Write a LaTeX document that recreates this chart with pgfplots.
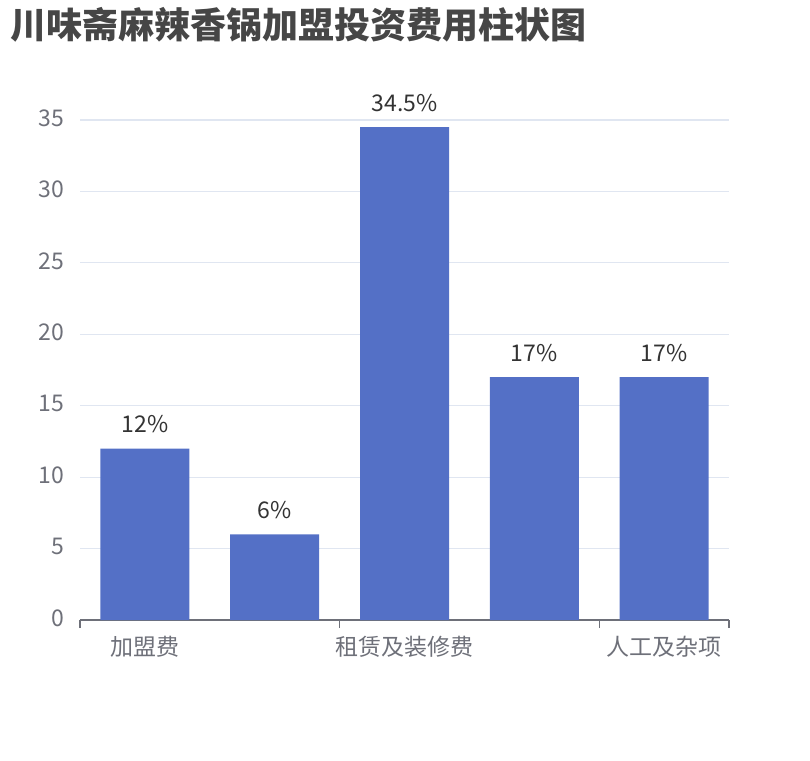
\documentclass[border=0pt]{standalone}
\usepackage{fontspec}
\setmainfont{Noto Sans CJK SC}
\usepackage{pgfplots}
\pgfplotsset{compat=1.18}
\definecolor{barblue}{HTML}{5470C6}
\definecolor{axisgray}{HTML}{6E7079}
\definecolor{gridgray}{HTML}{E0E6F1}
\definecolor{titlegray}{HTML}{464646}
\definecolor{labelgray}{HTML}{333333}

\begin{document}
\begin{tikzpicture}
\useasboundingbox (-80pt,-140pt) rectangle (730pt,620pt);
\begin{axis}[
  at={(0,0)}, anchor=south west,
  scale only axis, width=649pt, height=500pt,
  xmin=-0.5, xmax=4.5, ymin=0, ymax=35,
  ybar, bar width=89pt,
  axis x line*=bottom, axis y line*=left,
  x axis line style={-, draw=axisgray, line width=1.2pt},
  y axis line style={draw=none},
  ytick={0,5,...,35},
  ytick style={draw=none},
  ymajorgrids, grid style={gridgray, line width=1.2pt},
  xtick={0,2,4},
  xticklabels={加盟费,租赁及装修费,人工及杂项},
  major tick length=0pt,
  extra x ticks={-0.5,1.5,3.5,4.5},
  extra x tick labels={},
  extra x tick style={major tick length=8pt, tick align=outside,
    tick style={draw=axisgray, line width=1.2pt}},
  /pgf/number format/assume math mode=true,
  tick label style={font=\fontsize{23}{28}\selectfont, text=axisgray},
  yticklabel style={inner sep=0pt, xshift=-16pt, yshift=2pt},
  xticklabel style={yshift=-13pt},
  nodes near coords,
  point meta=explicit symbolic,
  nodes near coords style={font=\fontsize{23}{28}\selectfont, text=labelgray, yshift=12pt},
]
\addplot[fill=barblue, draw=none] coordinates {
  (0,12) [12\%]
  (1,6) [6\%]
  (2,34.5) [34.5\%]
  (3,17) [17\%]
  (4,17) [17\%]
};
\end{axis}
\node[anchor=west, inner sep=0pt, font=\fontsize{36}{42}\selectfont\bfseries, text=titlegray] at (-70pt,595pt) {川味斋麻辣香锅加盟投资费用柱状图};
\end{tikzpicture}
\end{document}
